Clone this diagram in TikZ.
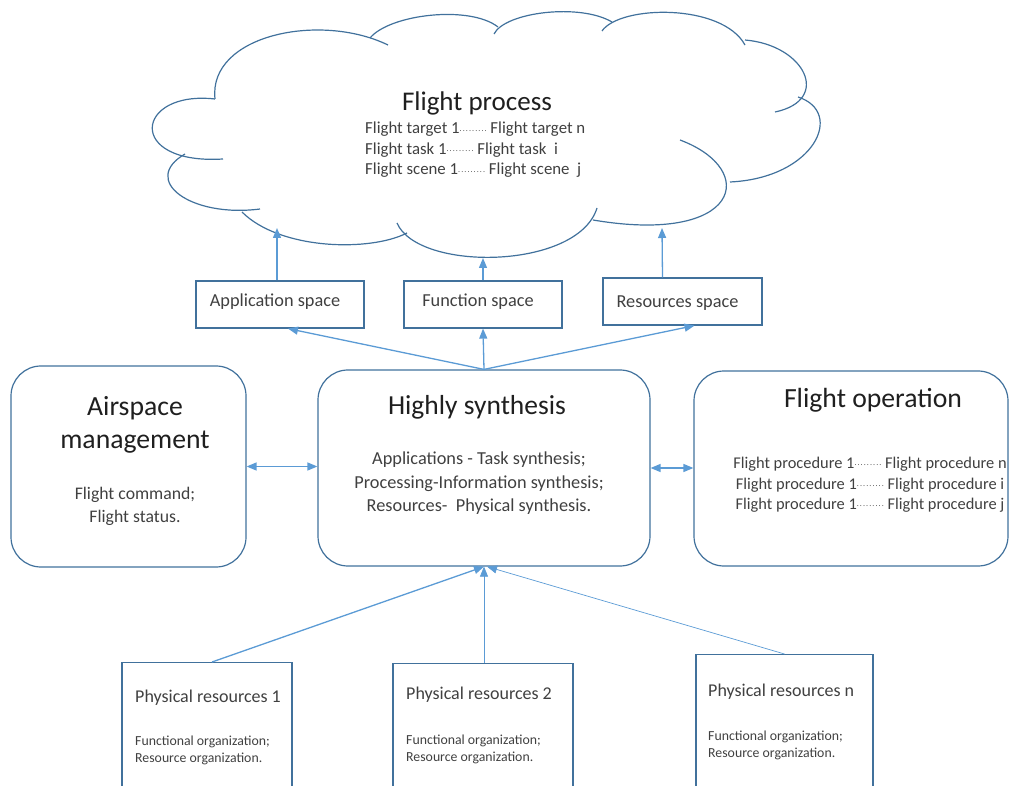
\documentclass[tikz,border=0pt]{standalone}
\usepackage{fontspec}
\setmainfont{Carlito}
\usetikzlibrary{arrows.meta}
\definecolor{boxblue}{HTML}{41719C}
\definecolor{arrblue}{HTML}{5B9BD5}
\definecolor{txtgray}{HTML}{404040}
\newcommand{\dts}{\raisebox{2.8pt}{\fontsize{8}{8}\selectfont .\kern1.1pt.\kern1.1pt.\kern1.1pt.\kern1.1pt.\kern1.1pt.\kern1.1pt.\kern1.1pt.\kern1.1pt.}}
\begin{document}
\begin{tikzpicture}[x=1pt,y=-1pt,
  box/.style={draw=boxblue, line width=1.2pt, inner sep=0pt},
  rbox/.style={box, rounded corners=30pt},
  arr/.style={draw=arrblue, line width=1.3pt, -{Triangle[length=10pt,width=8pt]}},
  thinarr/.style={arr, line width=0.7pt},
  darr/.style={draw=arrblue, line width=1.3pt, {Triangle[length=10pt,width=8pt]}-{Triangle[length=10pt,width=8pt]}},
  lobe/.style={draw=boxblue, line width=1.2pt},
  bigt/.style={font=\fontsize{27.5}{33}\selectfont, text=black!88, align=center, inner sep=0pt},
  midt/.style={font=\fontsize{18.3}{23.5}\selectfont, text=txtgray, align=center, inner sep=0pt},
  smt/.style={font=\fontsize{16.8}{20.5}\selectfont, text=txtgray, align=left, inner sep=0pt},
]
\useasboundingbox (0,0) rectangle (1010,786);
\clip (0,0) rectangle (1010,786);

% ---------- cloud ----------
\draw[lobe] (215,99) .. controls (208,35) and (320,12) .. (388,45);
\draw[lobe] (370,38) .. controls (390,14) and (470,5) .. (498,27);
\draw[lobe] (494,34) .. controls (505,12) and (580,3) .. (612,22);
\draw[lobe] (602,31) .. controls (620,5) and (722,3) .. (745,45);
\draw[lobe] (745,40) .. controls (805,45) and (832,100) .. (775,112);
\draw[lobe] (798,97) .. controls (845,112) and (815,178) .. (730,182);
\draw[lobe] (680,140) .. controls (760,170) and (740,245) .. (593,220);
\draw[lobe] (597,208) .. controls (578,270) and (418,272) .. (397,223);
\draw[lobe] (407,233) .. controls (370,252) and (280,250) .. (242,212);
\draw[lobe] (260,209) .. controls (190,218) and (140,180) .. (185,154);
\draw[lobe] (215,99) .. controls (135,90) and (125,165) .. (223,159);
\coordinate (c1) at (277,228);
\coordinate (c2) at (483,258);
\coordinate (c3) at (662,228);

\node[bigt, font=\fontsize{27}{33}\selectfont] (fp) at (477,103) {Flight process};
\node[smt, anchor=north west] (fpl) at (365,122) {Flight target 1\dts\ Flight target n\\
Flight task 1\dts\ Flight task~ i\\
Flight scene 1\dts\ Flight scene~ j};

% ---------- spaces ----------
\node[box, minimum width=168pt, minimum height=47pt] (app) at (280,304.5) {};
\node[box, minimum width=158pt, minimum height=47pt] (fun) at (483,304.5) {};
\node[box, minimum width=159pt, minimum height=47pt] (res) at (682.5,301.5) {};
\node[midt] (appt) at (275,302) {Application space};
\node[midt] (funt) at (478,302) {Function space};
\node[midt] (rest) at (677.5,303) {Resources space};

% ---------- main row ----------
\node[rbox, minimum width=235pt, minimum height=201pt] (am) at (128.5,466.5) {};
\node[rbox, minimum width=332pt, minimum height=196pt] (hs) at (484,468) {};
\node[rbox, minimum width=314pt, minimum height=195pt] (fo) at (851,468.5) {};

\node[bigt, font=\fontsize{27.7}{33}\selectfont] (amt) at (135,425) {Airspace\\management};
\node[midt, font=\fontsize{17.7}{23}\selectfont] (aml) at (135,506) {Flight command;\\Flight status.};
\node[bigt] (hst) at (477,407) {Highly synthesis};
\node[midt] (hsl) at (479,483.5) {Applications - Task synthesis;\\Processing-Information synthesis;\\Resources-~ Physical synthesis.};
\node[bigt, font=\fontsize{27.7}{33}\selectfont] (fot) at (873,400) {Flight operation};
\node[smt, align=center, font=\fontsize{16.4}{20.5}\selectfont] (fol) at (870,485) {Flight procedure 1\dts\ Flight procedure n\\
Flight procedure 1\dts\ Flight procedure i\\
Flight procedure 1\dts\ Flight procedure j};

% ---------- physical resources ----------
\node[box, minimum width=170pt, minimum height=160pt, anchor=north] (p1) at (207,662) {};
\node[box, minimum width=180pt, minimum height=160pt, anchor=north] (p2) at (483,663) {};
\node[box, minimum width=177pt, minimum height=160pt, anchor=north] (pn) at (784.5,654) {};

\node[smt, font=\fontsize{18}{20}\selectfont, anchor=west] (p1t) at (135,698) {Physical resources 1};
\node[smt, font=\fontsize{13.8}{17}\selectfont, anchor=west] (p1l) at (135,750) {Functional organization;\\Resource organization.};
\node[smt, font=\fontsize{18}{20}\selectfont, anchor=west] (p2t) at (406,695) {Physical resources 2};
\node[smt, font=\fontsize{13.8}{17}\selectfont, anchor=west] (p2l) at (406,749) {Functional organization;\\Resource organization.};
\node[smt, font=\fontsize{18}{20}\selectfont, anchor=west] (pnt) at (708,692) {Physical resources n};
\node[smt, font=\fontsize{13.8}{17}\selectfont, anchor=west] (pnl) at (708,745.5) {Functional organization;\\Resource organization.};

% ---------- connectors ----------
\draw[arr] ([xshift=-3pt]app.north) -- (c1);
\draw[arr] (fun.north) -- (c2);
\draw[arr] ([xshift=-20pt]res.north) -- (c3);

\draw[arr] (hs.north) -- ([xshift=8pt]app.south);
\draw[arr] (hs.north) -- (fun.south);
\draw[arr] (hs.north) -- ([xshift=12pt]res.south);

\draw[darr] (am.east) -- (am.east -| hs.west);
\draw[darr] (hs.east) -- (hs.east -| fo.west);

\draw[arr] ([xshift=5pt]p1.north) -- (hs.south);
\draw[thinarr] ([xshift=1pt]p2.north) -- (hs.south);
\draw[thinarr] (pn.north) -- ([xshift=3pt]hs.south);
\end{tikzpicture}
\end{document}
